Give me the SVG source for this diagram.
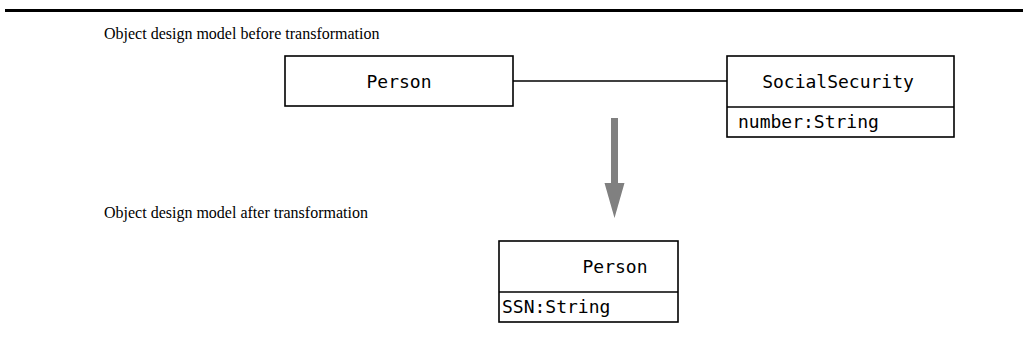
<svg xmlns="http://www.w3.org/2000/svg" width="1023" height="352" viewBox="0 0 1023 352">
<style>
.box{fill:#fff;stroke:#000;stroke-width:1.6}
.ln{stroke:#000;stroke-width:1.6;fill:none}
.cap{font-family:"Liberation Serif",serif;font-size:16px;fill:#000}
.mono{font-family:"DejaVu Sans Mono","Liberation Mono",monospace;font-size:18px;fill:#000}
</style>
<rect x="5" y="9" width="1018" height="3" fill="#000"/>
<text class="cap" x="104" y="39">Object design model before transformation</text>
<text class="cap" x="104" y="218">Object design model after transformation</text>
<g id="connectors">
<line class="ln" x1="513" y1="81" x2="727" y2="81"/>
<rect x="611" y="118" width="7" height="66" fill="#808080"/>
<polygon points="604.5,183 624.5,183 614.5,218" fill="#808080"/>
</g>
<g id="person-before">
<rect class="box" x="285" y="56" width="228" height="50"/>
<text class="mono" x="399" y="88" text-anchor="middle">Person</text>
</g>
<g id="socialsecurity">
<rect class="box" x="727" y="56" width="227" height="81"/>
<line class="ln" x1="727" y1="107" x2="954" y2="107"/>
<text class="mono" x="838" y="88" text-anchor="middle">SocialSecurity</text>
<text class="mono" x="738" y="128">number:String</text>
</g>
<g id="person-after">
<rect class="box" x="499" y="241" width="179" height="81"/>
<line class="ln" x1="499" y1="292" x2="678" y2="292"/>
<text class="mono" x="615" y="273" text-anchor="middle">Person</text>
<text class="mono" x="502" y="313">SSN:String</text>
</g>
</svg>
